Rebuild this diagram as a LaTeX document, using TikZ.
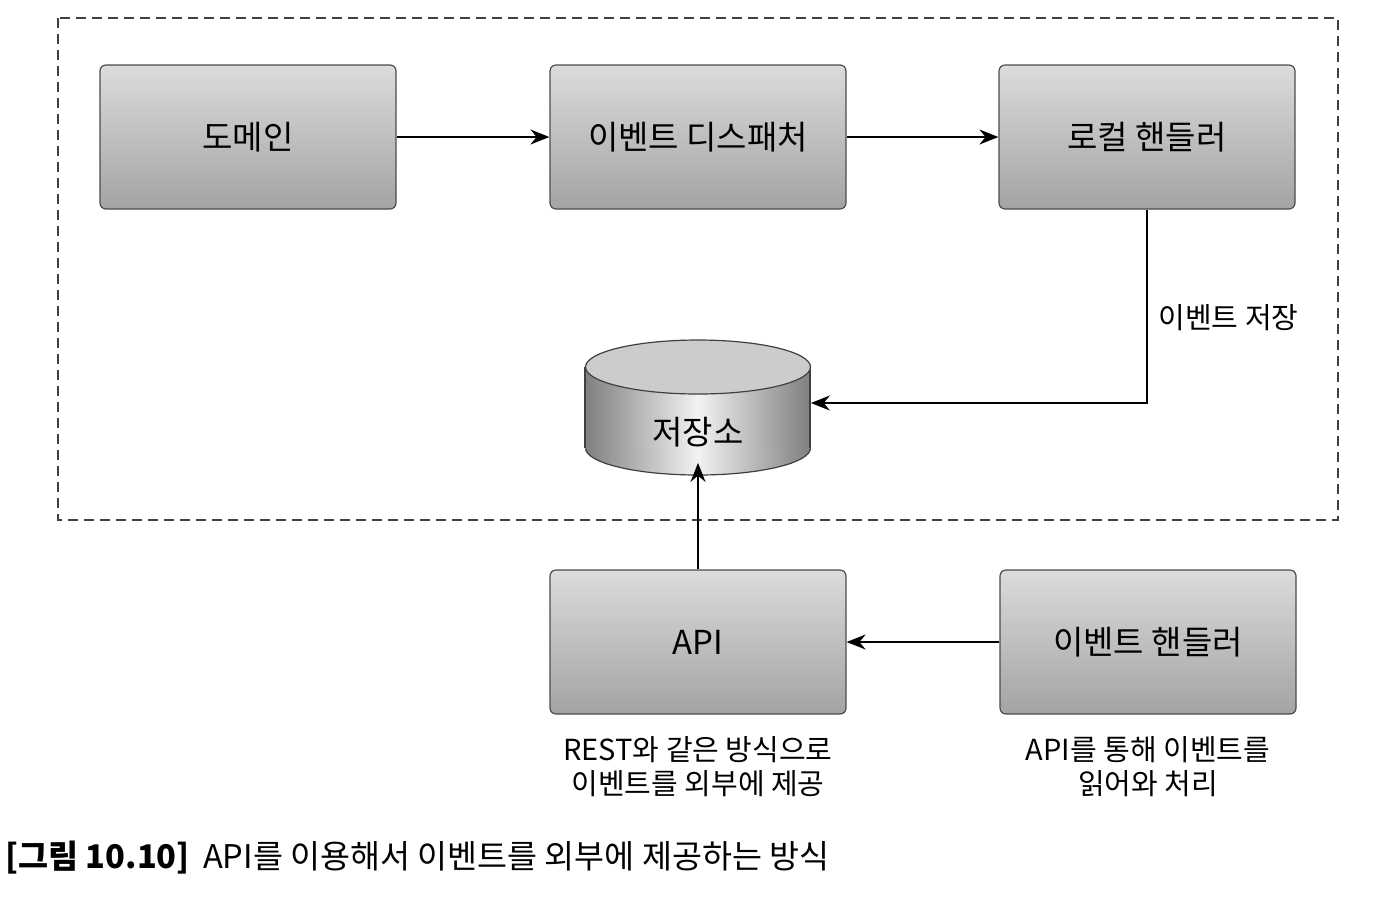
\documentclass[tikz,border=0pt]{standalone}
\usepackage{fontspec}
\setmainfont{Noto Sans CJK KR}
\usepackage{tikz}
\usetikzlibrary{arrows.meta,positioning}

\begin{document}
\begin{tikzpicture}[x=0.5pt,y=-0.5pt,
  boxnode/.style={draw=black!70,line width=0.6pt,rounded corners=3pt,top color=black!14,bottom color=black!36,
    minimum width=148pt,minimum height=72pt,font=\fontsize{16.5}{19}\selectfont},
  lbl/.style={align=center,font=\fontsize{14.5}{17}\selectfont},
  conn/.style={line width=0.8pt,-{Stealth[length=9.5pt,width=7.5pt]}}]
\useasboundingbox (0,0) rectangle (1380,902);
% dashed frame
\draw[black!75,line width=0.7pt,dash pattern=on 5pt off 3pt] (58,18) rectangle (1338,520);
% boxes
\node[boxnode] (dom) at (248,137) {도메인};
\node[boxnode] (disp) at (698,137) {이벤트 디스패처};
\node[boxnode] (lhand) at (1147,137) {로컬 핸들러};
\node[boxnode] (api) at (698,642) {API};
\node[boxnode] (ehand) at (1148,642) {이벤트 핸들러};
% cylinder
\shade[left color=black!50,right color=black!50,middle color=black!5,draw=black!75,line width=0.6pt] (698,448) ellipse (112.5 and 27);
\shade[left color=black!50,right color=black!50,middle color=black!5] (585,367) rectangle (810,448);
\draw[black!75,line width=0.6pt] (585,367) -- (585,448) (810,367) -- (810,448);
\draw[fill=black!20,draw=black!75,line width=0.6pt] (698,367) ellipse (112.5 and 27);
\node[minimum width=112.5pt,minimum height=59.5pt,inner sep=0pt] (store) at (698,403) {};
\node[font=\fontsize{16.5}{19}\selectfont] (storelbl) at (698,432) {저장소};
% connectors
\draw[conn] (dom) -- (disp);
\draw[conn] (disp) -- (lhand);
\draw[conn] (lhand.south) |- node[pos=0.28,right,lbl,xshift=2pt] {이벤트 저장} (store.east);
\draw[conn] (api) -- (store.south);
\draw[conn] (ehand) -- (api);
% notes
\node[lbl] (apinote) at (698,767) {REST와 같은 방식으로\\이벤트를 외부에 제공};
\node[lbl] (ehnote) at (1148,767) {API를 통해 이벤트를\\읽어와 처리};
\node[anchor=west,font=\fontsize{16.3}{20}\selectfont,inner sep=0pt] (cap) at (5,858) {{\bfseries [그림 10.10]}\hspace{3pt} API를 이용해서 이벤트를 외부에 제공하는 방식};
\end{tikzpicture}
\end{document}
